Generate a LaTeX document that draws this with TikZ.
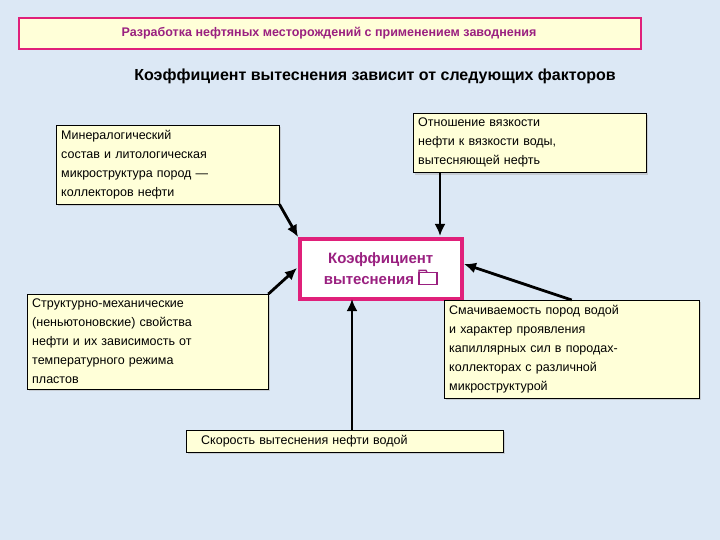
\documentclass[tikz,border=0pt]{standalone}
\usepackage{fontspec}
\setmainfont{Liberation Sans}
\usetikzlibrary{arrows.meta,shadows}
\definecolor{bg}{HTML}{DCE8F5}
\definecolor{pinkb}{HTML}{E0207A}
\definecolor{purp}{HTML}{9A2080}
\definecolor{ylw}{HTML}{FFFFD8}
\newcommand\jl[1]{\makebox[\linewidth][s]{#1}\\}
\tikzset{
 fbox/.style={draw=black,fill=ylw,inner sep=5pt,align=left,font=\fontsize{12.5}{19}\selectfont,anchor=north west,drop shadow={shadow xshift=2pt,shadow yshift=-2pt,fill=gray!60}},
 arr/.style={-{Latex[length=12pt,width=11pt]},line width=2.8pt},
}
\begin{document}
\begin{tikzpicture}[x=1pt,y=-1pt]
\useasboundingbox (0,0) rectangle (720,540);
\fill[bg] (0,0) rectangle (720,540);
\node[draw=pinkb,line width=2pt,fill=ylw,minimum width=622pt,minimum height=31pt,anchor=north west,font=\fontsize{12.5}{14}\selectfont\bfseries,text=purp] (title) at (18,17) {\hspace*{-2pt}Разработка нефтяных месторождений с применением заводнения};
\node[font=\fontsize{16}{18}\selectfont\bfseries] (sub) at (375,76) {Коэффициент вытеснения зависит от следующих факторов};
\node[fbox,text width=213pt] (b1) at (56,125) {Минералогический\\состав и литологическая\\микроструктура пород —\\коллекторов нефти};
\node[fbox,text width=223pt] (b2) at (413,113) {\jl{Отношение вязкости}\jl{нефти к вязкости воды,}вытесняющей нефть};
\node[draw=pinkb,line width=3.5pt,fill=white,minimum width=162pt,minimum height=60pt,anchor=north west,align=center,font=\fontsize{15}{21}\selectfont\bfseries,text=purp] (c) at (298,237) {Коэффициент\\вытеснения \tikz[baseline=0pt,x=1pt,y=1pt]{\draw[purp,line width=1.4pt](0,0) rectangle (18,12);\draw[purp,line width=1.4pt](0,12)--(0,14)--(7,14)--(8,12);}};
\node[fbox,text width=231pt] (b3) at (27,294) {\jl{Структурно-механические}\jl{(неньютоновские) свойства}\jl{нефти и их зависимость от}\jl{температурного режима}пластов};
\node[fbox,text width=245pt] (b4) at (444,300) {\jl{Смачиваемость пород водой}\jl{и характер проявления}\jl{капиллярных сил в породах-}\jl{коллекторах с различной}микроструктурой};
\node[fbox,text width=307pt] (b5) at (186,430) {\hspace*{10pt}Скорость вытеснения нефти водой};
\draw[arr] (b1.south east) -- (c.north west);
\draw[arr] (b2.south -| 440,0) -- (440,236);
\draw[arr] (b3.north east) -- (297,268);
\draw[arr] (b4.north) -- (464,264);
\draw[arr] (b5.north -| 352,0) -- (352,299);
\end{tikzpicture}
\end{document}
